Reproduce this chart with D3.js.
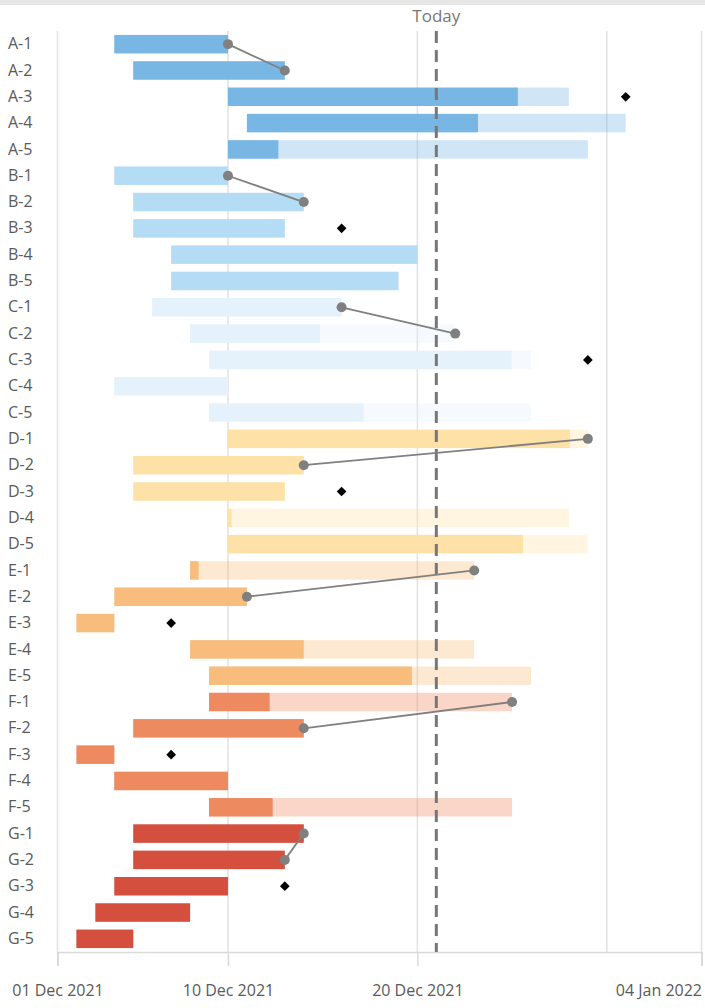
<!DOCTYPE html>
<html>
<head>
<meta charset="utf-8">
<script src="https://cdn.jsdelivr.net/npm/d3@7"></script>
<style>
  body { margin: 0; background: #fff; }
  text { font-family: "Open Sans", sans-serif; }
</style>
</head>
<body>
<div id="chart"></div>
<script>
// tasks and dates
const tasks = ["A-1","A-2","A-3","A-4","A-5","B-1","B-2","B-3","B-4","B-5",
  "C-1","C-2","C-3","C-4","C-5","D-1","D-2","D-3","D-4","D-5",
  "E-1","E-2","E-3","E-4","E-5","F-1","F-2","F-3","F-4","F-5",
  "G-1","G-2","G-3","G-4","G-5"];
const starts = ["2021-12-04","2021-12-05","2021-12-10","2021-12-11","2021-12-10",
  "2021-12-04","2021-12-05","2021-12-05","2021-12-07","2021-12-07",
  "2021-12-06","2021-12-08","2021-12-09","2021-12-04","2021-12-09",
  "2021-12-10","2021-12-05","2021-12-05","2021-12-10","2021-12-10",
  "2021-12-08","2021-12-04","2021-12-02","2021-12-08","2021-12-09",
  "2021-12-09","2021-12-05","2021-12-02","2021-12-04","2021-12-09",
  "2021-12-05","2021-12-05","2021-12-04","2021-12-03","2021-12-02"];
const ends = ["2021-12-10","2021-12-13","2021-12-28","2021-12-31","2021-12-29",
  "2021-12-10","2021-12-14","2021-12-13","2021-12-20","2021-12-19",
  "2021-12-16","2021-12-22","2021-12-26","2021-12-10","2021-12-26",
  "2021-12-29","2021-12-14","2021-12-13","2021-12-28","2021-12-29",
  "2021-12-23","2021-12-11","2021-12-04","2021-12-23","2021-12-26",
  "2021-12-25","2021-12-14","2021-12-04","2021-12-10","2021-12-25",
  "2021-12-14","2021-12-13","2021-12-10","2021-12-08","2021-12-05"];
const progress = [1, 1, 0.85, 0.61, 0.14,
  1, 1, 1, 1, 1,
  1, 0.49, 0.94, 1, 0.48,
  0.95, 1, 1, 0.01, 0.82,
  0.03, 1, 1, 0.4, 0.63,
  0.2, 1, 1, 1, 0.21,
  1, 1, 1, 1, 1];

// milestones (diamonds)
const milestoneTasks = ["A-3","B-3","C-3","D-3","E-3","F-3","G-3"];
const milestoneDates = ["2021-12-31","2021-12-16","2021-12-29","2021-12-16","2021-12-07","2021-12-07","2021-12-13"];

// dependency links (end to end)
const links = [["A-1","A-2"],["B-1","B-2"],["C-1","C-2"],["D-1","D-2"],
  ["E-1","E-2"],["F-1","F-2"],["G-1","G-2"]];

const groups = ["A","B","C","D","E","F","G"];
const groupColors = ["#78b6e4","#b5dcf5","#e5f2fc","#fee1a7","#f8bd7c","#ee8a5f","#d44f3e"];

const axisTicks = ["2021-12-01","2021-12-10","2021-12-20","2022-01-04"];
const gridDates = ["2021-12-01","2021-12-10","2021-12-20","2021-12-30","2022-01-04"];
const today = "2021-12-21";

const parse = d3.timeParse("%Y-%m-%d");
const fmt = d3.timeFormat("%d %b %Y");

const W = 705, H = 1008;
const margin = { top: 31, right: 3.5, bottom: 56, left: 57.5 };
const width = W - margin.left - margin.right,
      height = H - margin.top - margin.bottom;

const svg = d3.select("#chart").append("svg")
    .attr("width", W).attr("height", H);

// top strip
svg.append("rect").attr("x", 0).attr("y", 0).attr("width", W).attr("height", 5)
    .attr("fill", "#e6e6e6");

const g = svg.append("g").attr("transform", `translate(${margin.left},${margin.top})`);

const x = d3.scaleTime()
    .domain([parse("2021-12-01"), parse("2022-01-04")])
    .range([0, width]);

const y = d3.scaleBand()
    .domain(tasks)
    .range([0, height])
    .paddingInner(0.3)
    .paddingOuter(0.15);

const color = d3.scaleOrdinal().domain(groups).range(groupColors);

// grid lines
g.append("g").selectAll("line")
  .data(gridDates)
  .join("line")
    .attr("x1", d => x(parse(d))).attr("x2", d => x(parse(d)))
    .attr("y1", 0).attr("y2", height)
    .attr("stroke", "#e1e1e1").attr("stroke-width", 1.5);

// x axis
const xAxis = g.append("g")
    .attr("transform", `translate(0,${height})`)
    .call(d3.axisBottom(x)
      .tickValues(axisTicks.map(parse))
      .tickFormat(fmt)
      .tickSize(14)
      .tickPadding(19));
xAxis.select(".domain").attr("stroke", "#d9d9d9").attr("stroke-width", 1.5);
xAxis.selectAll(".tick line").attr("stroke", "#d9d9d9").attr("stroke-width", 1.5);
xAxis.selectAll(".tick text")
    .attr("fill", "#5a5a5a").style("font-size", "16px")
    .style("font-family", "'Open Sans', sans-serif");
xAxis.selectAll(".tick:last-of-type text").attr("text-anchor", "end");

// y axis labels
const yAxis = g.append("g")
    .call(d3.axisLeft(y).tickSize(0).tickPadding(0));
yAxis.select(".domain").remove();
yAxis.selectAll(".tick text")
    .attr("x", 8 - margin.left)
    .attr("text-anchor", "start")
    .attr("fill", "#5a5a5a").style("font-size", "16px")
    .style("font-family", "'Open Sans', sans-serif");

const rows = tasks.map((t, i) => ({
  task: t,
  group: t[0],
  start: parse(starts[i]),
  end: parse(ends[i]),
  p: progress[i]
}));
const byTask = new Map(rows.map(d => [d.task, d]));

// full bar (light)
g.append("g").selectAll("rect")
  .data(rows)
  .join("rect")
    .attr("x", d => x(d.start))
    .attr("y", d => y(d.task))
    .attr("width", d => x(d.end) - x(d.start))
    .attr("height", y.bandwidth())
    .attr("fill", d => color(d.group))
    .attr("fill-opacity", 0.35);

// progress bar (dark)
g.append("g").selectAll("rect")
  .data(rows)
  .join("rect")
    .attr("x", d => x(d.start))
    .attr("y", d => y(d.task))
    .attr("width", d => (x(d.end) - x(d.start)) * d.p)
    .attr("height", y.bandwidth())
    .attr("fill", d => color(d.group));

// today line
const tx = x(parse(today));
g.append("line")
    .attr("x1", tx).attr("x2", tx)
    .attr("y1", 0).attr("y2", height)
    .attr("stroke", "#777").attr("stroke-width", 3)
    .attr("stroke-dasharray", "12,7");
g.append("text")
    .attr("x", tx).attr("y", -9)
    .attr("text-anchor", "middle")
    .attr("fill", "#777").style("font-size", "17px")
    .text("Today");

// links
const cy = t => y(t) + y.bandwidth() / 2;
g.append("g").selectAll("line")
  .data(links)
  .join("line")
    .attr("x1", d => x(byTask.get(d[0]).end)).attr("y1", d => cy(d[0]))
    .attr("x2", d => x(byTask.get(d[1]).end)).attr("y2", d => cy(d[1]))
    .attr("stroke", "#808080").attr("stroke-width", 1.8);
g.append("g").selectAll("circle")
  .data(links.flat())
  .join("circle")
    .attr("cx", d => x(byTask.get(d).end))
    .attr("cy", d => cy(d))
    .attr("r", 5)
    .attr("fill", "#808080");

// milestones
g.append("g").selectAll("path")
  .data(milestoneTasks)
  .join("path")
    .attr("transform", (d, i) => `translate(${x(parse(milestoneDates[i]))},${cy(d)})`)
    .attr("d", d3.symbol(d3.symbolDiamond2, 60))
    .attr("fill", "#000");
</script>
</body>
</html>
